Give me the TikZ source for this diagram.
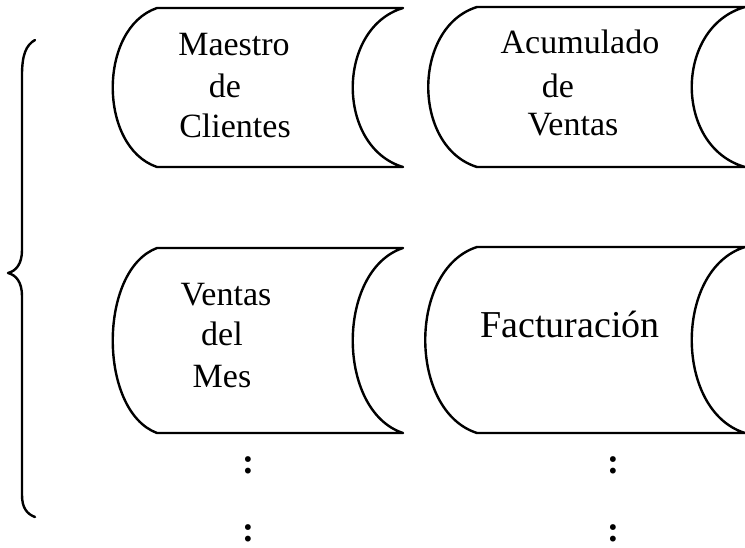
\documentclass[tikz,border=0pt]{standalone}
\usepackage{fontspec}
\setmainfont{Liberation Serif}
\begin{document}
\begin{tikzpicture}[x=0.5pt,y=-0.5pt,line width=1.2pt,line join=round,line cap=round,
  lbl/.style={anchor=base,inner sep=0pt,font=\fontsize{17}{20}\selectfont},
  biglbl/.style={anchor=base,inner sep=0pt,font=\fontsize{19}{22}\selectfont},
  vdots/.style={anchor=base,inner sep=0pt,font=\fontsize{18}{20}\selectfont\bfseries}]
\useasboundingbox (0,0) rectangle (745,547);
% stored-data shapes
\draw (157,8) -- (403,8) .. controls (336,28) and (336,147) .. (403,167)
      -- (157,167) .. controls (98,147) and (98,28) .. (157,8) -- cycle;
\draw (477,7) -- (745,7) .. controls (674,27) and (674,147) .. (745,167)
      -- (477,167) .. controls (412,147) and (412,27) .. (477,7) -- cycle;
\draw (157,248) -- (403,248) .. controls (336,270) and (336,411) .. (403,433)
      -- (157,433) .. controls (98,411) and (98,270) .. (157,248) -- cycle;
\draw (477,247) -- (745,247) .. controls (674,269) and (674,411) .. (745,433)
      -- (477,433) .. controls (408,411) and (408,269) .. (477,247) -- cycle;
% brace
\draw (35,40) .. controls (26,45) and (22,55) .. (22,75) -- (22,250)
      .. controls (22,264) and (16,271) .. (8,273)
      .. controls (16,275) and (22,282) .. (22,296) -- (22,495)
      .. controls (22,508) and (27,514) .. (35,517);
% texts
\node[lbl] (m1) at (234,55) {Maestro};
\node[lbl] (m2) at (225,97) {de};
\node[lbl] (m3) at (235,137) {Clientes};
\node[lbl] (a1) at (580,53) {Acumulado};
\node[lbl] (a2) at (558,97) {de};
\node[lbl] (a3) at (573,135) {Ventas};
\node[lbl] (v1) at (226,305) {Ventas};
\node[lbl] (v2) at (222,345) {del};
\node[lbl] (v3) at (222,387) {Mes};
\node[biglbl] (f1) at (570,337) {Facturación};
\node[vdots] (d1) at (248,473) {:};
\node[vdots] (d2) at (248,541) {:};
\node[vdots] (d3) at (613,473) {:};
\node[vdots] (d4) at (613,541) {:};
\end{tikzpicture}
\end{document}
